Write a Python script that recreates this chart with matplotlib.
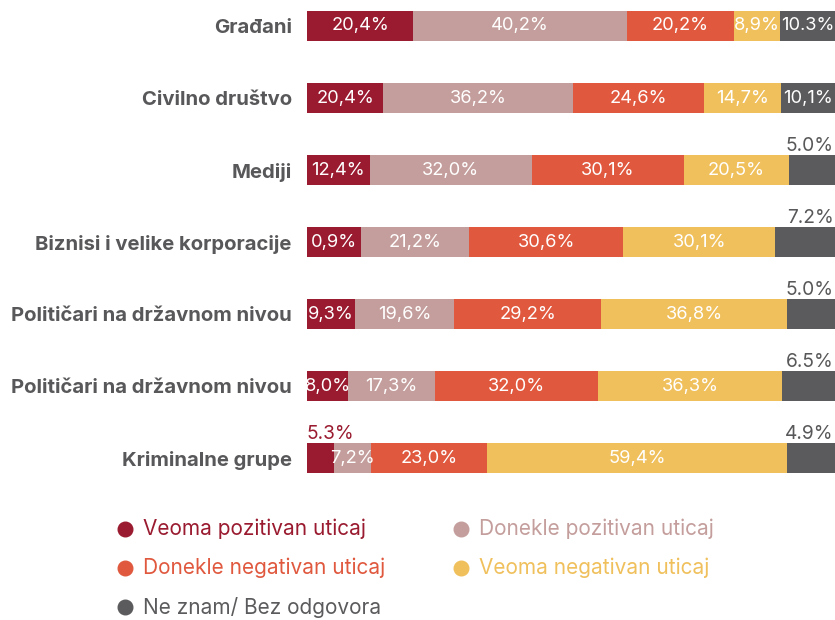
import matplotlib
matplotlib.use("Agg")
import matplotlib.pyplot as plt
import numpy as np

plt.rcParams['font.family'] = ['Inter', 'DejaVu Sans']

categories = ["Građani", "Civilno društvo", "Mediji", "Biznisi i velike korporacije",
              "Političari na državnom nivou", "Političari na državnom nivou", "Kriminalne grupe"]
series_names = ["Veoma pozitivan uticaj", "Donekle pozitivan uticaj", "Donekle negativan uticaj",
                "Veoma negativan uticaj", "Ne znam/ Bez odgovora"]

# segment widths as drawn (percent of bar)
veoma_poz = [20.1, 14.4, 11.9, 10.2, 9.1, 7.8, 5.1]
donekle_poz = [40.5, 36.0, 30.7, 20.5, 18.8, 16.5, 7.0]
donekle_neg = [20.3, 24.8, 28.8, 29.2, 27.8, 30.9, 22.0]
veoma_neg = [8.7, 14.6, 19.9, 28.8, 35.2, 34.7, 56.8]
ne_znam = [10.4, 10.2, 8.9, 11.4, 9.3, 10.4, 9.3]

# label texts as printed on the chart
lbl_veoma_poz = ["20,4%", "20,4%", "12,4%", "0,9%", "9,3%", "8,0%", "5.3%"]
lbl_donekle_poz = ["40,2%", "36,2%", "32,0%", "21,2%", "19,6%", "17,3%", "7,2%"]
lbl_donekle_neg = ["20,2%", "24,6%", "30,1%", "30,6%", "29,2%", "32,0%", "23,0%"]
lbl_veoma_neg = ["8,9%", "14,7%", "20,5%", "30,1%", "36,8%", "36,3%", "59,4%"]
lbl_ne_znam = ["10.3%", "10,1%", "5.0%", "7.2%", "5.0%", "6.5%", "4.9%"]

# labels printed above the bar instead of inside it
above_veoma_poz = [False, False, False, False, False, False, True]
above_ne_znam = [False, False, True, True, True, True, True]

colors = ["#9a1b30", "#c49e9c", "#e0593f", "#f0c05c", "#5b5b5d"]
text_gray = "#58585a"

values = [veoma_poz, donekle_poz, donekle_neg, veoma_neg, ne_znam]
labels = [lbl_veoma_poz, lbl_donekle_poz, lbl_donekle_neg, lbl_veoma_neg, lbl_ne_znam]
above = [above_veoma_poz, [False] * 7, [False] * 7, [False] * 7, above_ne_znam]

W, H = 835, 620
fig = plt.figure(figsize=(W / 100, H / 100), dpi=100)
ax = fig.add_axes([307 / W, 1 - 490 / H, 528 / W, 490 / H])

FS = 13.2
y = np.arange(len(categories))
bar_h = 30 / 72
left = np.zeros(len(categories))
for s, (vals, lbls, col, ab) in enumerate(zip(values, labels, colors, above)):
    vals = np.array(vals)
    ax.barh(y, vals, left=left, height=bar_h, color=col, edgecolor='none')
    for i in range(len(categories)):
        v = vals[i]
        centre = left[i] + v / 2
        if ab[i] and s == 4:
            ax.annotate(lbls[i], xy=(100, y[i] - bar_h / 2), xytext=(-1, 0),
                        textcoords='offset points', ha='right', va='bottom',
                        fontsize=13.8, color=text_gray, annotation_clip=False)
        elif ab[i]:
            ax.annotate(lbls[i], xy=(0, y[i] - bar_h / 2), xytext=(0, 0),
                        textcoords='offset points', ha='left', va='bottom',
                        fontsize=13.8, color=col, annotation_clip=False)
        else:
            ax.text(centre, y[i], lbls[i], ha='center', va='center',
                    fontsize=FS, color='white')
    left += vals

ax.set_xlim(0, 100)
ax.set_ylim(6.444, -0.361)
ax.set_yticks(y)
ax.set_yticklabels(categories, fontsize=14.6, fontweight='bold', color=text_gray)
ax.tick_params(axis='y', length=0, pad=11)
ax.set_xticks([])
for sp in ax.spines.values():
    sp.set_visible(False)

# legend
lax = fig.add_axes([0, 0, 1, 1], facecolor='none')
lax.set_xlim(0, W)
lax.set_ylim(H, 0)
lax.axis('off')
pos = [(125, 529), (461, 529), (125, 568), (461, 568), (125, 607)]
for (px, py), name, col in zip(pos, series_names, colors):
    lax.plot(px, py, 'o', ms=10.5, color=col)
    lax.text(px + 18, py, name, ha='left', va='center', fontsize=15, color=col)

fig.savefig("out.png", dpi=100)
